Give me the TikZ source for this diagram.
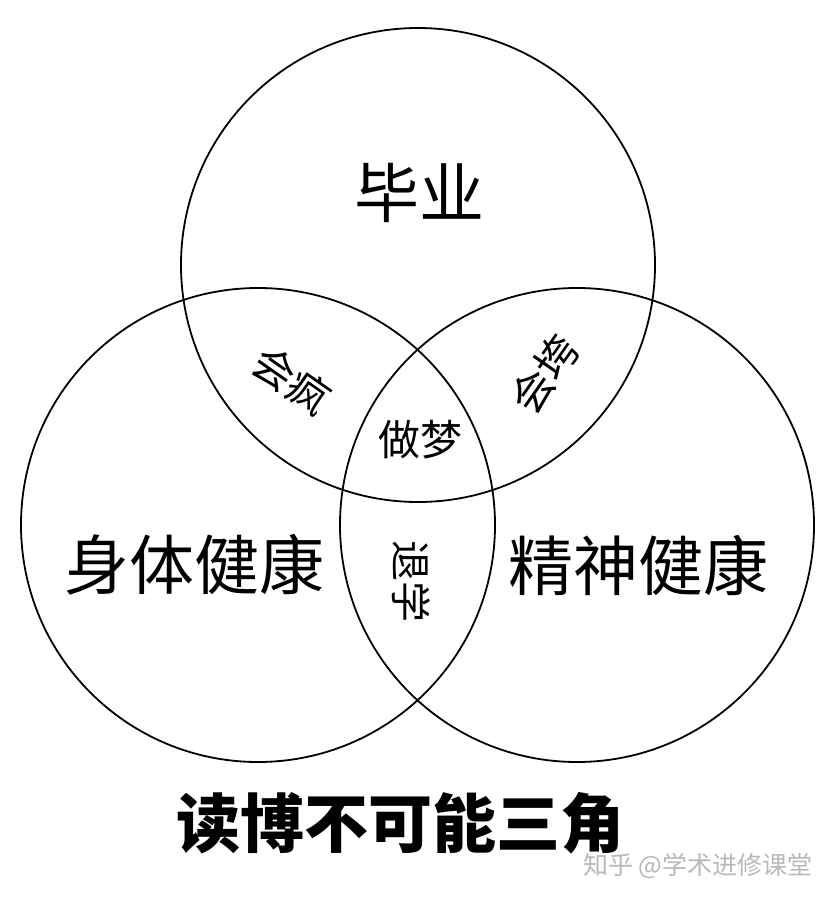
\documentclass[tikz,border=0pt]{standalone}
\usepackage{fontspec}
\setmainfont{Noto Sans CJK SC}
\usepackage{xcolor}
\definecolor{MarkGray}{HTML}{B8B8B8}

\begin{document}
\begin{tikzpicture}[x=1pt,y=-1pt,
  ring/.style={circle,draw,line width=1.8pt,minimum size=474pt,inner sep=0pt},
  big/.style={font=\fontsize{65}{65}\selectfont,inner sep=0pt},
  small/.style={font=\fontsize{42}{42}\selectfont,inner sep=0pt}]
\useasboundingbox (0,0) rectangle (828,897);
\node[ring] (G) at (418,265) {};
\node[ring] (B) at (258,525) {};
\node[ring] (M) at (577,525) {};
\node[big] (grad) at (419,193) {毕业};
\node[big] (body) at (194,565) {身体健康};
\node[big] (mind) at (638,565) {精神健康};
\node[small,rotate=-35] (mad) at (292,380) {会疯};
\node[small,rotate=55] (down) at (544,374) {会垮};
\node[small] (dream) at (420,440) {做梦};
\node[font=\fontsize{41}{41}\selectfont,inner sep=0pt,rotate=-90] (quit) at (411,581) {退学};
\node[big,font=\fontsize{64}{64}\selectfont\bfseries] (title) at (400,823) {读博不可能三角};
\node[font=\fontsize{25}{25}\selectfont,text=MarkGray,inner sep=0pt] (mark) at (698,866) {知乎 @学术进修课堂};
\end{tikzpicture}
\end{document}
